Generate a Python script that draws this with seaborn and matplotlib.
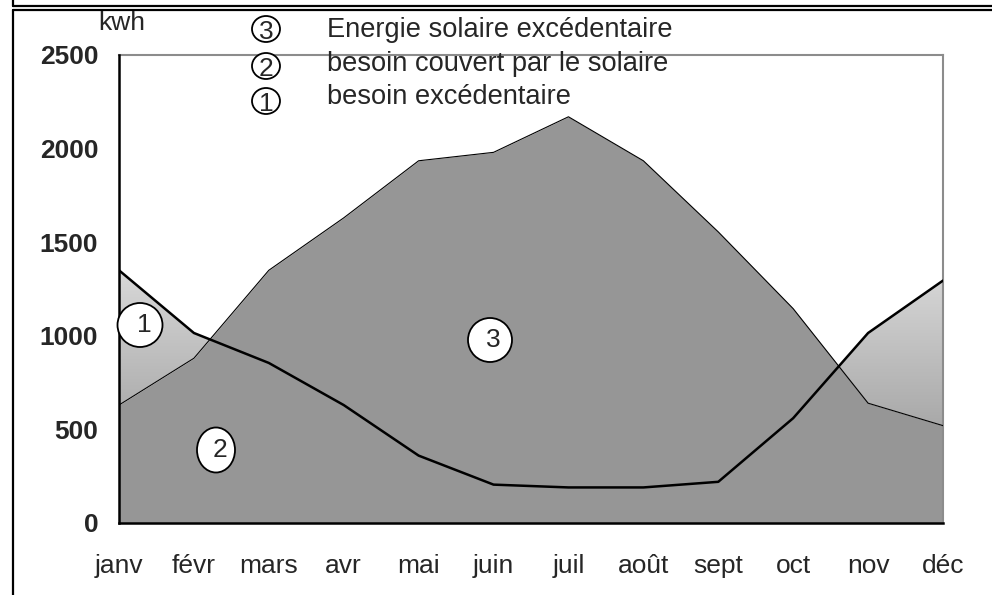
import numpy as np
import pandas as pd
import matplotlib
matplotlib.use("Agg")
import matplotlib.pyplot as plt
from matplotlib.patches import Ellipse
from matplotlib.lines import Line2D
from matplotlib.path import Path
import seaborn as sns

months = ["janv", "févr", "mars", "avr", "mai", "juin",
          "juil", "août", "sept", "oct", "nov", "déc"]
solaire = [630, 880, 1350, 1630, 1935, 1980, 2170, 1935, 1555, 1145, 640, 520]
besoin = [1350, 1015, 855, 630, 360, 205, 190, 190, 220, 560, 1015, 1295]
legend_labels = ["Energie solaire excédentaire",
                 "besoin couvert par le solaire",
                 "besoin excédentaire"]

sns.set_style("white")
plt.rcParams['font.family'] = ['Liberation Sans', 'DejaVu Sans']
FS = 19

df = pd.DataFrame({"mois": np.arange(len(months)), "solaire": solaire, "besoin": besoin})

fig = plt.figure(figsize=(9.92, 5.95), dpi=100)
ax = fig.add_axes([119 / 992, 72 / 595, 824 / 992, 468 / 595])

x = df["mois"].to_numpy(dtype=float)
s = df["solaire"].to_numpy(dtype=float)
b = df["besoin"].to_numpy(dtype=float)

# solar area (dark grey)
ax.fill_between(x, 0, s, color="#969696", lw=0, zorder=1)
# area where demand exceeds solar: vertical gradient
poly = ax.fill_between(x, s, b, where=b > s, interpolate=True, color="none", lw=0, zorder=2)
grad = np.linspace(0, 1, 256).reshape(-1, 1)
cmap = matplotlib.colors.LinearSegmentedColormap.from_list("g", ["#a2a2a2", "#dedede"])
img = ax.imshow(grad, extent=[0, 11, 400, 1450], origin="lower", aspect="auto",
                cmap=cmap, zorder=2)
img.set_clip_path(Path.make_compound_path(*poly.get_paths()), transform=ax.transData)

sns.lineplot(data=df, x="mois", y="solaire", color="black", lw=0.8, ax=ax, zorder=3)
sns.lineplot(data=df, x="mois", y="besoin", color="black", lw=1.8, ax=ax, zorder=4)

ax.set_xlim(0, 11)
ax.set_ylim(0, 2500)
ax.set_xticks(x)
ax.set_xticklabels(months, fontsize=FS)
ax.set_yticks([0, 500, 1000, 1500, 2000, 2500])
ax.set_yticklabels(["0", "500", "1000", "1500", "2000", "2500"], fontsize=FS, fontweight="bold")
ax.set_xlabel("")
ax.set_ylabel("")
ax.tick_params(axis="both", direction="out", length=6, width=1, color="#808080")
ax.tick_params(axis="x", pad=16)
ax.tick_params(axis="y", pad=9)
for side in ["left", "bottom"]:
    ax.spines[side].set_color("black")
    ax.spines[side].set_linewidth(1.8)
for side in ["top", "right"]:
    ax.spines[side].set_color("#8c8c8c")
    ax.spines[side].set_linewidth(1.5)
ax.spines["left"].set_zorder(5)

W, H = 992, 595


def circle(cx, cy, w, h, label, dx=0, dy=0):
    fig.add_artist(Ellipse((cx / W, 1 - cy / H), w / W, h / H, transform=fig.transFigure,
                           facecolor="white", edgecolor="black", lw=1.3, zorder=6))
    fig.text((cx + dx) / W, 1 - (cy + dy) / H, label, ha="center", va="center",
             fontsize=FS, zorder=7)


circle(140, 325, 45, 44, "1", dx=4)
circle(216, 450, 38, 45, "2", dx=4)
circle(490, 340, 44, 44, "3", dx=3)

leg_circ_y = [29, 66, 101]
leg_base_y = [37, 71, 104]
for i, lab in enumerate(legend_labels):
    circle(266, leg_circ_y[i], 28, 26, str(3 - i), dy=3)
    fig.text(327 / W, 1 - leg_base_y[i] / H, lab, ha="left", va="baseline", fontsize=19.6)

fig.text(98 / W, 1 - 30 / H, "kwh", ha="left", va="baseline", fontsize=FS)

# outer frame lines
fig.add_artist(Line2D([13 / W, 1], [1 - 5.5 / H, 1 - 5.5 / H], transform=fig.transFigure, color="black", lw=1.6))
fig.add_artist(Line2D([13 / W, 1], [1 - 10 / H, 1 - 10 / H], transform=fig.transFigure, color="black", lw=1.6))
fig.add_artist(Line2D([13 / W, 13 / W], [1, 1 - 5.5 / H], transform=fig.transFigure, color="black", lw=1.6))
fig.add_artist(Line2D([13 / W, 13 / W], [1 - 10 / H, 0], transform=fig.transFigure, color="black", lw=1.6))

fig.savefig("out.png", dpi=100)
